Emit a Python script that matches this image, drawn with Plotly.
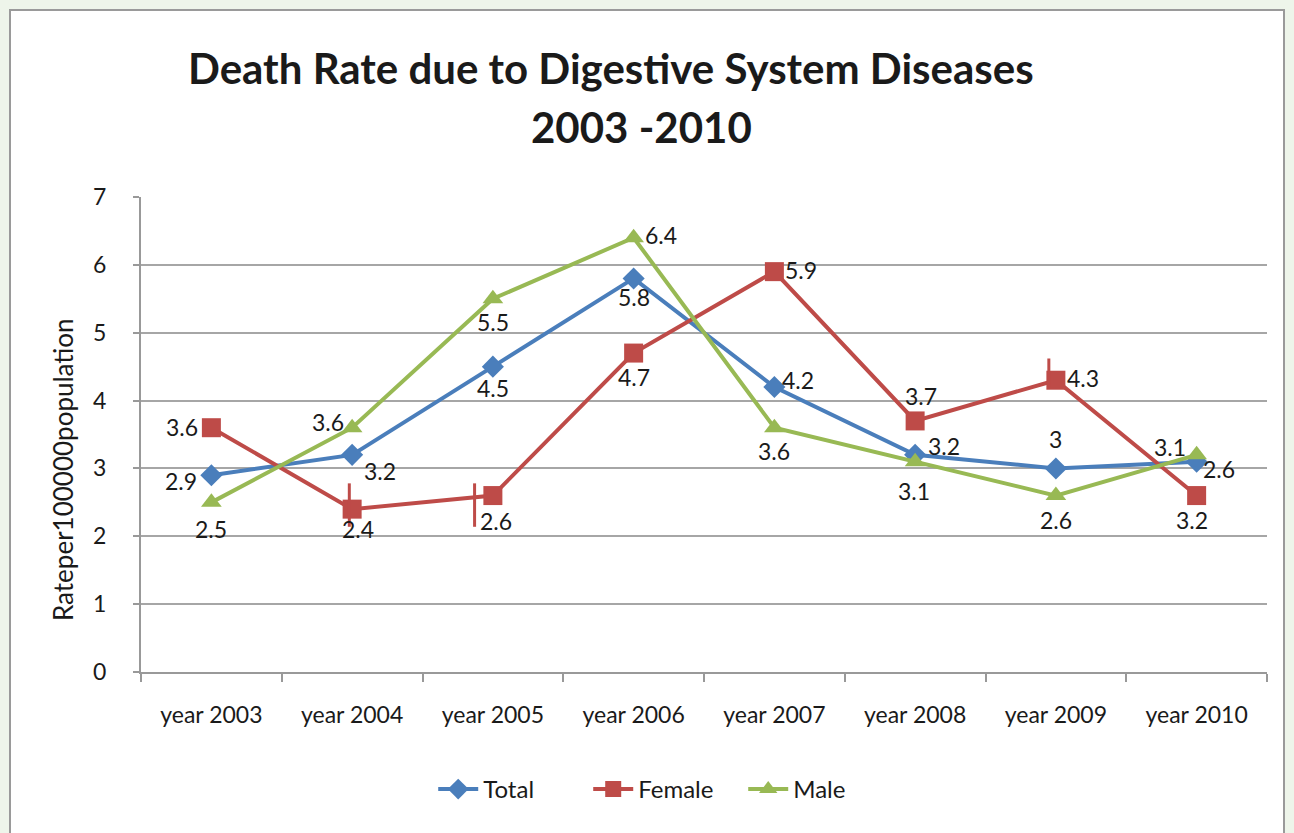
import plotly.graph_objects as go

# Death rate per 100000 population, digestive system diseases
years = ["year 2003", "year 2004", "year 2005", "year 2006",
         "year 2007", "year 2008", "year 2009", "year 2010"]
total = [2.9, 3.2, 4.5, 5.8, 4.2, 3.2, 3.0, 3.1]
female = [3.6, 2.4, 2.6, 4.7, 5.9, 3.7, 4.3, 2.6]
male = [2.5, 3.6, 5.5, 6.4, 3.6, 3.1, 2.6, 3.2]
y_title = "Rateper100000population"

BLUE = "#4a7ebb"
RED = "#be4b48"
GREEN = "#98b954"
FONT = "Lato"
INK = "#1a1a1a"

# label offsets (xshift, yshift) in pixels for each point of each series
total_off = [(-30, -6), (28, -16), (0, -21), (0, -19), (24, 7), (29, 9), (0, 29), (-27, 15)]
female_off = [(-29, 1), (6, -20), (3, -25), (0, -24), (27, 2), (6, 25), (27, 2), (-5, -24)]
male_off = [(0, -27), (-24, 6), (0, -23), (27, 3), (0, -23), (-1, -29), (0, -24), (21, -13)]

W, H = 1294, 833
plot_l, plot_r, plot_t, plot_b = 141, 1267, 197, 672


def px_to_paper(px, py):
    """Pixel position in the page -> paper coordinates of the plot area."""
    return ((px - plot_l) / (plot_r - plot_l), (plot_b - py) / (plot_b - plot_t))


fig = go.Figure()
series = [
    ("Total", total, BLUE, "diamond", 17, total_off),
    ("Female", female, RED, "square", 19, female_off),
    ("Male", male, GREEN, "triangle-up", 18, male_off),
]
for name, vals, color, sym, size, offs in series:
    fig.add_trace(go.Scatter(
        x=years, y=vals, name=name, mode="lines+markers",
        line=dict(color=color, width=4),
        marker=dict(symbol=sym, size=size, color=color),
    ))

# value labels
labels = []
for name, vals, color, sym, size, offs in series:
    row = []
    for i, v in enumerate(vals):
        dx, dy = offs[i]
        row.append(dict(
            x=years[i], y=v, text=f"{v:g}", showarrow=False,
            xshift=dx, yshift=dy,
            font=dict(family=FONT, size=23, color=INK),
        ))
    labels.append(row)

# the 2010 female / male labels sit beside each other's markers
labels[1][7].update(y=male[7], xshift=22, yshift=-14)
labels[2][7].update(y=female[7], xshift=-5, yshift=-24)

for row in labels:
    for a in row:
        fig.add_annotation(**a)

# two-line title
tx1, ty1 = px_to_paper(611, 68)
tx2, ty2 = px_to_paper(641, 127)
for text, tx, ty in [("Death Rate due to Digestive System Diseases", tx1, ty1),
                     ("2003 -2010", tx2, ty2)]:
    fig.add_annotation(
        text=f"<b>{text}</b>", x=tx, y=ty, xref="paper", yref="paper",
        xanchor="center", yanchor="middle", showarrow=False,
        font=dict(family=FONT, size=42, color=INK),
    )

# vertical axis title
ax, ay = px_to_paper(63, 470)
fig.add_annotation(
    text=y_title, x=ax, y=ay, xref="paper", yref="paper",
    xanchor="center", yanchor="middle", textangle=-90, showarrow=False,
    font=dict(family=FONT, size=26, color=INK),
)

# chart frame
fx0, fy1 = px_to_paper(10, 10)
fx1, fy0 = px_to_paper(1284, 840)
fig.add_shape(type="rect", xref="paper", yref="paper", layer="below",
              x0=fx0, x1=fx1, y0=fy0, y1=fy1,
              fillcolor="white", line=dict(color="#9a9a9a", width=2))

# short red strokes on the female line
strokes = [(1, -0.02, 2.14, 2.78), (2, -0.13, 2.14, 2.78), (6, -0.05, 4.2, 4.62)]
for xi, off, y0, y1 in strokes:
    fig.add_shape(type="line", xref="x", yref="y",
                  x0=xi + off, x1=xi + off, y0=y0, y1=y1,
                  line=dict(color=RED, width=3))

fig.update_layout(
    width=W, height=H,
    margin=dict(l=plot_l, r=W - plot_r, t=plot_t, b=H - plot_b),
    paper_bgcolor="#eef5ea",
    plot_bgcolor="white",
    font=dict(family=FONT, size=21, color=INK),
    showlegend=True,
    legend=dict(orientation="h", x=0.466, xanchor="center", y=-0.2, yanchor="top",
                font=dict(family=FONT, size=24, color=INK),
                itemwidth=40, entrywidth=100, entrywidthmode="pixels",
                bgcolor="rgba(0,0,0,0)"),
    xaxis=dict(
        type="category", tickson="boundaries", ticks="outside", ticklen=8,
        tickcolor="#999999", tickwidth=2,
        showline=True, linecolor="#999999", linewidth=2,
        showgrid=False, range=[-0.5, 7.5], ticklabelstandoff=21,
        tickfont=dict(family=FONT, size=23, color=INK),
    ),
    yaxis=dict(
        range=[0, 7], dtick=1, ticks="outside", ticklen=6,
        tickcolor="#999999", tickwidth=2,
        showline=True, linecolor="#999999", linewidth=2,
        gridcolor="#a6a6a6", gridwidth=2, zeroline=False,
        ticklabelstandoff=22,
        tickfont=dict(family=FONT, size=23, color=INK),
    ),
)

fig.write_html("out.html")
